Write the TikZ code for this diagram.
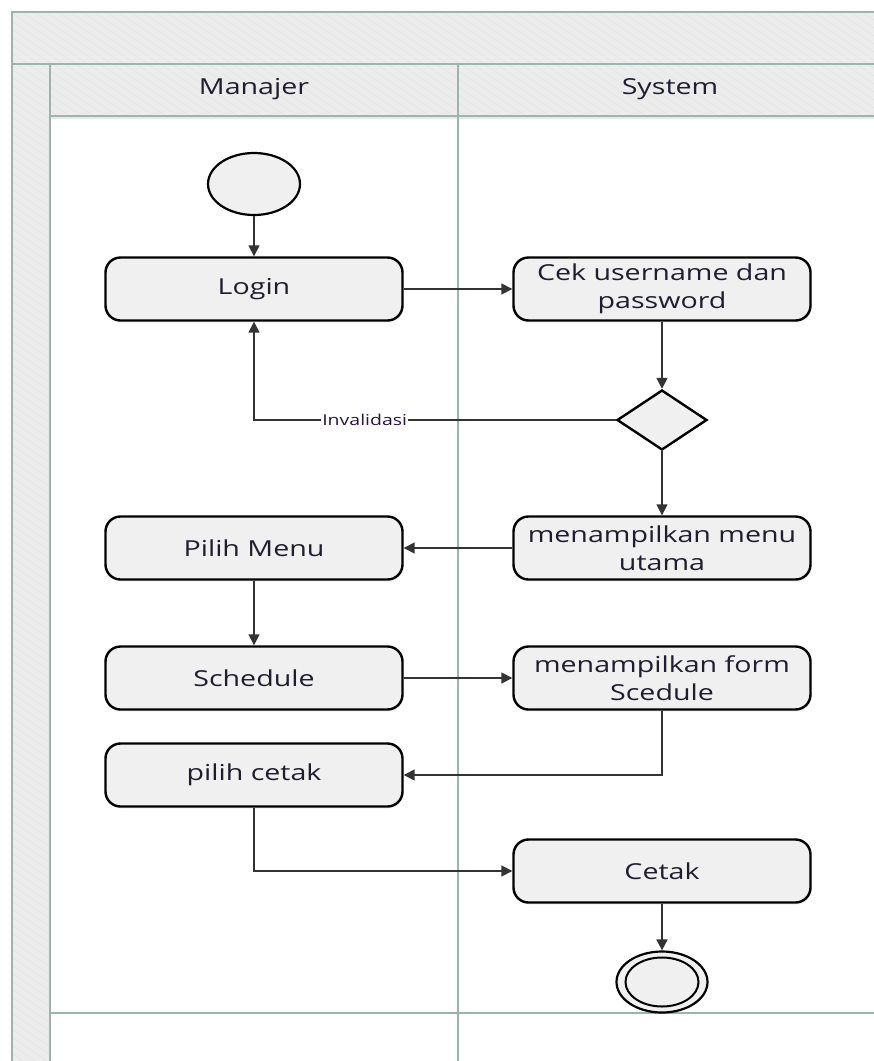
\documentclass[tikz,border=0pt]{standalone}
\usepackage{fontspec}
\setmainfont[FakeStretch=1.3]{Open Sans}
\usetikzlibrary{shapes.geometric,arrows.meta,shadows}
\definecolor{laneline}{HTML}{9DB3AC}
\definecolor{bandfill}{HTML}{ECECEC}
\definecolor{hatch}{HTML}{E5E5E5}
\definecolor{boxfill}{HTML}{F0F0F0}
\definecolor{ink}{HTML}{1E1E2E}
\definecolor{wire}{HTML}{333333}
\definecolor{lblink}{HTML}{2A1440}
\tikzset{
  band/.style={fill=bandfill, draw=laneline, line width=1.6pt},
  laneedge/.style={draw=laneline, line width=1.8pt},
  actbox/.style={rectangle, rounded corners=15pt, draw=black, line width=2.4pt,
    fill=boxfill, minimum width=297pt, minimum height=63pt, inner sep=2pt,
    align=center, text=ink, font=\fontsize{22}{28}\selectfont,
    drop shadow={opacity=0.12, shadow xshift=1pt, shadow yshift=-2pt}},
  startnode/.style={ellipse, draw=black, line width=2.2pt, fill=boxfill,
    minimum width=92pt, minimum height=62pt, inner sep=0pt},
  decision/.style={diamond, draw=black, line width=2.4pt, fill=boxfill,
    minimum width=90pt, minimum height=60pt, inner sep=0pt},
  flow/.style={draw=wire, line width=1.6pt, -{Triangle[width=11pt,length=11pt]}},
  lbl/.style={fill=white, inner sep=1pt, text=lblink, font=\fontsize{15}{18}\selectfont},
  lanetitle/.style={text=ink, font=\fontsize{22}{26}\selectfont}
}
\begin{document}
\begin{tikzpicture}[x=1pt,y=-1pt]
\useasboundingbox (0,0) rectangle (874,1061);
\fill[white] (0,0) rectangle (874,1061);

% swimlane frame: title band, side band and lane headers
\path[band] (12,12) rectangle (890,64);
\path[band] (12,64) rectangle (50,1075);
\path[band] (50,64) rectangle (458,116);
\path[band] (458,64) rectangle (890,116);
\begin{scope}
  \clip (13,13) rectangle (889,63) (13,65) rectangle (49,1075)
        (51,65) rectangle (457,115) (459,65) rectangle (889,115);
  \foreach \a in {-1700,-1688,...,900}
    \draw[hatch, line width=0.5pt] (\a,0) -- ++(1650,1100);
\end{scope}
\path[band, fill=none] (12,12) rectangle (890,64);
\path[band, fill=none] (12,64) rectangle (50,1075);
\path[band, fill=none] (50,64) rectangle (458,116);
\path[band, fill=none] (458,64) rectangle (890,116);
\draw[gray!18, line width=2pt] (51,118) -- (890,118);
\draw[laneedge] (458,116) -- (458,1075);
\draw[laneedge] (50,1013) -- (890,1013);

\node[lanetitle] (laneM) at (254,89) {Manajer};
\node[lanetitle] (laneS) at (670,89) {System};

% activity nodes
\node[startnode] (start) at (254,184) {};
\node[actbox] (login) at (254,289) {Login};
\node[actbox] (cek) at (662,289) {Cek username dan\\password};
\node[decision] (dec) at (662,420) {};
\node[actbox] (utama) at (662,548) {menampilkan menu\\utama};
\node[actbox] (pilih) at (254,548) {Pilih Menu};
\node[actbox] (sched) at (254,678) {Schedule};
\node[actbox] (form) at (662,678) {menampilkan form\\Scedule};
\node[actbox] (pcetak) at (254,775) {pilih cetak};
\node[actbox] (cetak) at (662,871) {Cetak};
\node[startnode, minimum width=91pt, minimum height=61pt] (final) at (662,982) {};
\node[ellipse, draw=black, line width=2pt, fill=boxfill,
      minimum width=73pt, minimum height=49pt, inner sep=0pt] (finalin) at (662,982) {};

% control flow
\draw[flow] (start) -- (login);
\draw[flow] (login) -- (cek);
\draw[flow] (cek) -- (dec);
\draw[flow] (dec.west) -| node[lbl, pos=0.347] {Invalidasi} (login.south);
\draw[flow] (dec.south) -- (utama.north);
\draw[flow] (utama) -- (pilih);
\draw[flow] (pilih) -- (sched);
\draw[flow] (sched) -- (form);
\draw[flow] (form.south) |- (pcetak.east);
\draw[flow] (pcetak.south) |- (cetak.west);
\draw[flow] (cetak) -- (final);
\end{tikzpicture}
\end{document}
